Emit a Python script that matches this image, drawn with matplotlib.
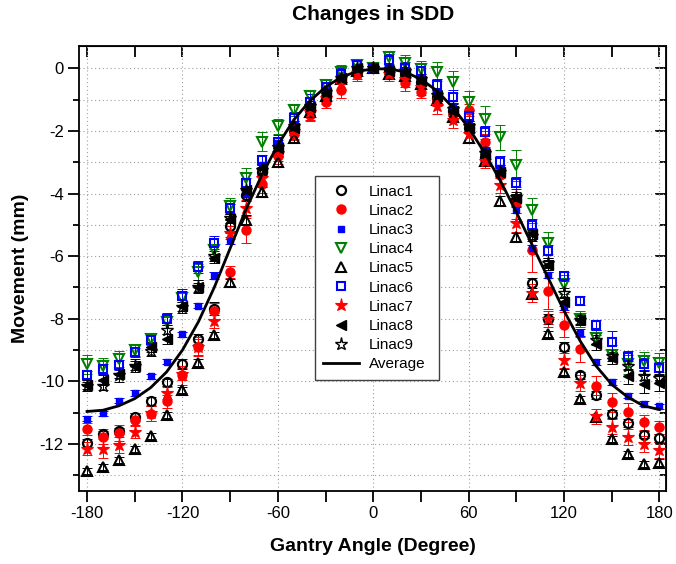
import matplotlib
matplotlib.use('Agg')
import matplotlib.pyplot as plt
from matplotlib.ticker import MultipleLocator

plt.rcParams['font.family'] = ['Liberation Sans', 'DejaVu Sans']
plt.rcParams['axes.unicode_minus'] = False

angles = list(range(-180, 181, 10))

linac1 = [-11.97, -11.67, -11.58, -11.14, -10.64, -10.03, -9.45, -8.64, -7.68,
          -5.05, -4.04, -3.30, -2.66, -1.97, -1.33, -0.91, -0.32, -0.05,
          0.0,
          -0.10, -0.20, -0.43, -0.96, -1.38, -1.92, -2.82, -3.35, -4.20,
          -6.86, -8.01, -8.89, -9.81, -10.43, -11.04, -11.33, -11.70, -11.81]
linac2 = [-11.52, -11.76, -11.65, -11.22, -11.03, -10.64, -9.80, -8.89, -7.75,
          -6.51, -5.18, -3.69, -2.80, -2.10, -1.50, -1.07, -0.69, -0.20,
          0.0,
          -0.15, -0.48, -0.75, -1.00, -1.45, -1.33, -2.34, -3.40, -4.30,
          -5.80, -7.10, -8.19, -8.97, -10.14, -10.67, -10.99, -11.31, -11.47]
linac3 = [-11.19, -11.01, -10.62, -10.37, -9.84, -9.38, -8.49, -7.59, -6.62,
          -5.50, -4.00, -3.10, -2.40, -1.80, -1.20, -0.70, -0.25, 0.05,
          0.0,
          -0.05, -0.10, -0.30, -0.80, -1.20, -1.80, -2.60, -3.20, -4.52,
          -5.75, -6.60, -7.61, -8.44, -9.38, -10.02, -10.46, -10.71, -10.80]
linac4 = [-9.45, -9.50, -9.29, -9.00, -8.65, -8.10, -7.35, -6.50, -5.80,
          -4.40, -3.50, -2.34, -1.86, -1.33, -0.90, -0.55, -0.11, 0.10,
          0.0,
          0.35, 0.16, -0.03, -0.11, -0.43, -1.07, -1.62, -2.20, -3.10,
          -4.53, -5.57, -6.90, -8.00, -8.60, -9.15, -9.45, -9.35, -9.40]
linac5 = [-12.87, -12.74, -12.50, -12.15, -11.74, -11.08, -10.27, -9.40, -8.52,
          -6.84, -4.84, -3.94, -2.98, -2.23, -1.40, -0.90, -0.35, -0.10,
          0.0,
          -0.20, -0.25, -0.50, -1.00, -1.55, -2.23, -2.95, -4.24, -5.40,
          -7.20, -8.48, -9.70, -10.57, -11.15, -11.84, -12.32, -12.63, -12.59]
linac6 = [-9.81, -9.60, -9.47, -9.07, -8.69, -8.00, -7.26, -6.35, -5.57,
          -4.47, -3.67, -2.93, -2.34, -1.60, -1.07, -0.59, -0.20, 0.10,
          0.0,
          0.27, 0.00, -0.08, -0.53, -0.91, -1.54, -2.05, -3.00, -3.67,
          -5.00, -5.85, -6.65, -7.42, -8.20, -8.73, -9.23, -9.44, -9.58]
linac7 = [-12.15, -12.15, -12.03, -11.60, -11.00, -10.37, -9.76, -8.90, -8.06,
          -5.25, -4.47, -3.50, -2.70, -2.00, -1.40, -0.95, -0.50, -0.15,
          0.0,
          -0.20, -0.35, -0.60, -1.22, -1.65, -2.10, -2.95, -3.72, -4.93,
          -7.18, -8.00, -9.33, -10.06, -11.12, -11.44, -11.78, -12.00, -12.20]
linac8 = [-10.10, -9.95, -9.75, -9.50, -8.90, -8.64, -7.60, -7.00, -6.07,
          -4.80, -3.90, -3.20, -2.55, -1.90, -1.25, -0.80, -0.30, 0.00,
          0.0,
          -0.10, -0.15, -0.40, -0.90, -1.35, -1.90, -2.75, -3.30, -4.15,
          -5.30, -6.28, -7.45, -8.05, -8.80, -9.25, -9.84, -10.08, -10.05]
linac9 = [-10.16, -10.14, -9.81, -9.50, -9.04, -8.35, -7.61, -6.97, -6.00,
          -4.79, -3.90, -3.25, -2.50, -1.85, -1.20, -0.75, -0.30, 0.00,
          0.0,
          -0.05, -0.10, -0.35, -0.85, -1.30, -1.85, -2.70, -3.30, -4.10,
          -5.37, -6.22, -7.18, -8.03, -8.67, -9.20, -9.50, -9.82, -9.90]
average = [-10.96, -10.92, -10.78, -10.55, -10.20, -9.70, -9.00, -8.10, -7.00,
           -5.75, -4.50, -3.40, -2.45, -1.65, -1.05, -0.60, -0.28, -0.10,
           -0.02,
           -0.02, -0.12, -0.35, -0.72, -1.25, -1.90, -2.70, -3.60, -4.60,
           -5.65, -6.70, -7.75, -8.70, -9.50, -10.10, -10.50, -10.78, -10.90]

err1 = [0.12, 0.10, 0.10, 0.12, 0.15, 0.12, 0.15, 0.15, 0.20,
        0.20, 0.20, 0.15, 0.15, 0.15, 0.15, 0.15, 0.15, 0.15,
        0.0,
        0.15, 0.15, 0.15, 0.15, 0.15, 0.15, 0.15, 0.15, 0.20,
        0.15, 0.15, 0.15, 0.12, 0.12, 0.12, 0.12, 0.12, 0.12]
err2 = [0.20, 0.25, 0.25, 0.20, 0.25, 0.20, 0.30, 0.30, 0.25,
        0.20, 0.40, 0.30, 0.25, 0.20, 0.20, 0.20, 0.25, 0.20,
        0.0,
        0.20, 0.25, 0.20, 0.20, 0.20, 0.20, 0.25, 0.30, 0.50,
        0.70, 0.60, 0.40, 0.40, 0.30, 0.30, 0.30, 0.25, 0.20]
err3 = [0.08, 0.08, 0.08, 0.08, 0.08, 0.08, 0.08, 0.08, 0.10,
        0.10, 0.10, 0.10, 0.10, 0.10, 0.10, 0.10, 0.10, 0.10,
        0.0,
        0.10, 0.10, 0.10, 0.10, 0.10, 0.10, 0.10, 0.10, 0.10,
        0.10, 0.10, 0.10, 0.10, 0.10, 0.10, 0.08, 0.08, 0.08]
err4 = [0.30, 0.25, 0.25, 0.20, 0.20, 0.20, 0.25, 0.25, 0.20,
        0.25, 0.30, 0.30, 0.25, 0.20, 0.20, 0.20, 0.20, 0.20,
        0.0,
        0.20, 0.25, 0.25, 0.30, 0.35, 0.35, 0.40, 0.40, 0.50,
        0.40, 0.35, 0.30, 0.25, 0.25, 0.30, 0.30, 0.30, 0.30]
err5 = [0.10, 0.10, 0.10, 0.10, 0.10, 0.10, 0.10, 0.10, 0.10,
        0.10, 0.15, 0.15, 0.15, 0.15, 0.15, 0.15, 0.15, 0.15,
        0.0,
        0.15, 0.15, 0.15, 0.15, 0.15, 0.15, 0.15, 0.15, 0.15,
        0.10, 0.10, 0.10, 0.10, 0.10, 0.10, 0.10, 0.10, 0.10]
err6 = [0.15, 0.15, 0.15, 0.15, 0.20, 0.20, 0.20, 0.20, 0.20,
        0.15, 0.15, 0.15, 0.20, 0.20, 0.25, 0.20, 0.20, 0.20,
        0.0,
        0.20, 0.20, 0.20, 0.20, 0.20, 0.20, 0.20, 0.20, 0.20,
        0.20, 0.20, 0.15, 0.15, 0.15, 0.35, 0.20, 0.20, 0.20]
err7 = [0.20, 0.30, 0.25, 0.20, 0.25, 0.20, 0.20, 0.25, 0.25,
        0.20, 0.25, 0.25, 0.25, 0.25, 0.25, 0.20, 0.20, 0.20,
        0.0,
        0.20, 0.25, 0.25, 0.25, 0.25, 0.25, 0.25, 0.25, 0.30,
        0.30, 0.25, 0.25, 0.25, 0.25, 0.25, 0.25, 0.25, 0.25]
err8 = [0.15, 0.15, 0.15, 0.15, 0.15, 0.15, 0.15, 0.15, 0.15,
        0.15, 0.15, 0.15, 0.15, 0.15, 0.15, 0.15, 0.15, 0.15,
        0.0,
        0.15, 0.15, 0.15, 0.15, 0.15, 0.15, 0.15, 0.15, 0.15,
        0.15, 0.15, 0.15, 0.15, 0.20, 0.20, 0.25, 0.30, 0.25]
err9 = [0.15, 0.15, 0.20, 0.20, 0.15, 0.15, 0.20, 0.20, 0.15,
        0.15, 0.15, 0.15, 0.15, 0.15, 0.15, 0.15, 0.15, 0.15,
        0.0,
        0.15, 0.15, 0.15, 0.15, 0.15, 0.15, 0.15, 0.15, 0.15,
        0.15, 0.15, 0.15, 0.15, 0.15, 0.15, 0.15, 0.15, 0.15]

labels = ['Linac1', 'Linac2', 'Linac3', 'Linac4', 'Linac5',
          'Linac6', 'Linac7', 'Linac8', 'Linac9']
series = [linac1, linac2, linac3, linac4, linac5, linac6, linac7, linac8, linac9]
errors = [err1, err2, err3, err4, err5, err6, err7, err8, err9]

BLACK, RED, BLUE, GREEN = '#000000', '#FF0000', '#0000FF', '#008000'
styles = [
    dict(marker='o', color=BLACK, mfc='none', ms=6.5, mew=1.6),
    dict(marker='o', color=RED, mfc=RED, ms=6.5, mew=1.0),
    dict(marker='s', color=BLUE, mfc=BLUE, ms=5.0, mew=1.0),
    dict(marker='v', color=GREEN, mfc='none', ms=7.0, mew=1.5),
    dict(marker='^', color=BLACK, mfc='none', ms=7.0, mew=1.5),
    dict(marker='s', color=BLUE, mfc='none', ms=6.0, mew=1.5),
    dict(marker='*', color=RED, mfc=RED, ms=9.5, mew=0.8),
    dict(marker='<', color=BLACK, mfc=BLACK, ms=7.0, mew=1.0),
    dict(marker='*', color=BLACK, mfc='none', ms=9.5, mew=1.0),
]

fig = plt.figure(figsize=(6.76, 5.64), dpi=100)
ax = fig.add_axes([0.117, 0.1294, 0.868, 0.7896])

handles = []
for i, (vals, errs, st) in enumerate(zip(series, errors, styles)):
    ax.errorbar(angles, vals, yerr=errs, fmt='none', ecolor=st['color'],
                elinewidth=0.7, capsize=3.5, capthick=0.7, zorder=2 + i * 0.1)
    h, = ax.plot(angles, vals, linestyle='none', marker=st['marker'],
                 markeredgecolor=st['color'], markerfacecolor=st['mfc'],
                 markersize=st['ms'], markeredgewidth=st['mew'],
                 zorder=3 + i * 0.1, label=labels[i])
    handles.append(h)

hl, = ax.plot(angles, average, color='black', lw=2.0, zorder=5, label='Average')
handles.append(hl)

ax.set_xlim(-185, 184)
ax.set_ylim(-13.5, 0.72)
ax.xaxis.set_major_locator(MultipleLocator(60))
ax.xaxis.set_minor_locator(MultipleLocator(30))
ax.yaxis.set_major_locator(MultipleLocator(2))
ax.yaxis.set_minor_locator(MultipleLocator(1))

ax.grid(True, which='major', axis='x', color='#A0A0A0', linestyle=(0, (1, 2.5)), lw=0.8)
ax.grid(True, which='both', axis='y', color='#A0A0A0', linestyle=(0, (1, 2.5)), lw=0.8)
ax.set_axisbelow(True)

ax.tick_params(axis='both', which='major', direction='out', length=8, width=1.3,
               labelsize=12, pad=3)
ax.tick_params(axis='x', which='minor', direction='out', length=8, width=1.3)
ax.tick_params(axis='y', which='minor', direction='out', length=4, width=1.3)
for s in ax.spines.values():
    s.set_linewidth(1.3)

# mirrored ticks on top and right pointing inward
top = ax.secondary_xaxis('top')
top.xaxis.set_major_locator(MultipleLocator(60))
top.xaxis.set_minor_locator(MultipleLocator(30))
top.tick_params(which='both', direction='in', length=8, width=1.3, labeltop=False)
right = ax.secondary_yaxis('right')
right.yaxis.set_major_locator(MultipleLocator(2))
right.yaxis.set_minor_locator(MultipleLocator(1))
right.tick_params(which='major', direction='in', length=8, width=1.3, labelright=False)
right.tick_params(which='minor', direction='in', length=4, width=1.3)

ax.set_xlabel('Gantry Angle (Degree)', fontsize=14, fontweight='bold', labelpad=12)
ax.set_ylabel('Movement (mm)', fontsize=14, fontweight='bold', labelpad=8)
fig.text(0.552, 0.992, 'Changes in SDD', fontsize=15, fontweight='bold',
         ha='center', va='top')

leg = ax.legend(handles=handles, loc='upper left',
                bbox_to_anchor=(0.402, 0.242, 0.211, 0.465), mode='expand',
                fontsize=11, frameon=True, fancybox=False, framealpha=1,
                edgecolor='#404040', labelspacing=0.34, handlelength=2.3,
                handletextpad=0.7, borderpad=0.55, borderaxespad=0)
leg.get_frame().set_linewidth(1.0)

fig.savefig('out.png', dpi=100)
